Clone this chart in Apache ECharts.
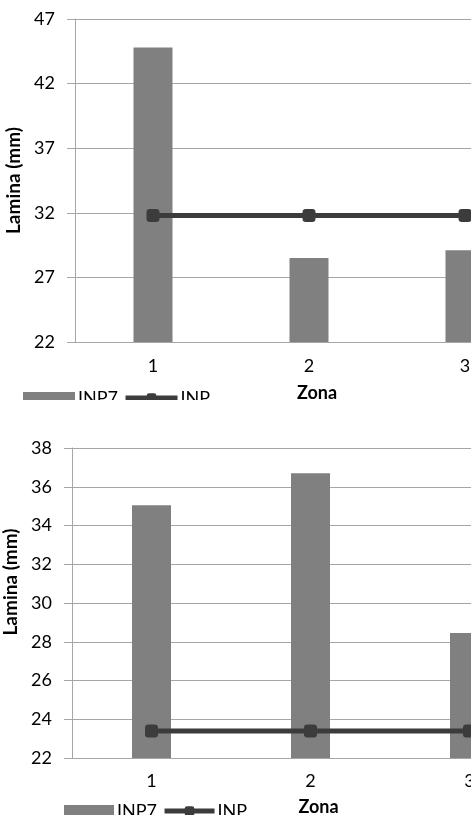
<!DOCTYPE html>
<html>
<head>
<meta charset="utf-8">
<script src="https://cdn.jsdelivr.net/npm/echarts@6/dist/echarts.min.js"></script>
<style>
  html, body { margin: 0; padding: 0; background: #fff; }
  #top { width: 471px; height: 400px; }
  #bottom { width: 471px; height: 415px; }
</style>
</head>
<body>
<div id="top"></div>
<div id="bottom"></div>
<script>
// zonas
var zonas = ['1', '2', '3'];
// grafico superior
var inp7Top = [44.8, 28.5, 29.1];
var inpTop = [31.8, 31.8, 31.8];
var ticksTop = [22, 27, 32, 37, 42, 47];
// grafico inferior
var inp7Bottom = [35.05, 36.7, 28.45];
var inpBottom = [23.4, 23.4, 23.4];
var ticksBottom = [22, 24, 26, 28, 30, 32, 34, 36, 38];

var fontName = 'Lato';
var gridGray = '#a6a6a6';

function buildOption(g, bars, line, ticks, lg) {
  return {
    animation: false,
    textStyle: { fontFamily: fontName },
    legend: {
      left: lg.left,
      top: lg.top,
      padding: 0,
      itemWidth: lg.w,
      itemHeight: 12,
      itemGap: 5,
      lineStyle: { width: 5 },
      textStyle: { fontSize: 18, color: '#000', lineHeight: 12, padding: [0, 0, 0, -2] },
      data: [
        { name: 'INP7', icon: 'rect' },
        { name: 'INP' }
      ]
    },
    grid: g.grid,
    xAxis: {
      type: 'category',
      data: zonas,
      boundaryGap: true,
      name: 'Zona',
      nameLocation: 'middle',
      nameGap: g.nameGapX,
      nameTextStyle: { fontSize: 18, fontWeight: 'bold', color: '#000', padding: [0, 0, 0, 16] },
      axisLine: { lineStyle: { color: gridGray } },
      axisTick: { length: 6, alignWithLabel: false, lineStyle: { color: gridGray } },
      axisLabel: { fontSize: 18, color: '#000', margin: g.labelMarginX }
    },
    yAxis: {
      type: 'value',
      min: ticks[0],
      max: ticks[ticks.length - 1],
      name: 'Lamina (mm)',
      nameLocation: 'middle',
      nameGap: g.nameGapY,
      nameTextStyle: { fontSize: 19, fontWeight: 'bold', color: '#000', padding: g.namePadY },
      axisLine: { show: true, lineStyle: { color: gridGray } },
      axisTick: { show: true, length: 8, lineStyle: { color: gridGray }, customValues: ticks },
      axisLabel: { fontSize: 18, color: '#000', margin: 20, customValues: ticks },
      splitLine: { lineStyle: { color: gridGray } }
    },
    series: [
      {
        name: 'INP7',
        type: 'bar',
        barWidth: 39,
        data: bars,
        itemStyle: { color: '#808080' }
      },
      {
        name: 'INP',
        type: 'line',
        data: line,
        symbol: 'roundRect',
        symbolSize: 13,
        lineStyle: { color: '#3c3c3c', width: 5 },
        itemStyle: { color: '#3c3c3c' },
        z: 5
      }
    ]
  };
}

var chartTop = echarts.init(document.getElementById('top'));
chartTop.setOption(buildOption(
  {
    grid: { left: 75, top: 19, width: 468, height: 323, outerBoundsMode: 'none' },
    nameGapX: 42, labelMarginX: 15, nameGapY: 47, namePadY: 0
  },
  inp7Top, inpTop, ticksTop,
  { left: 23, top: 389, w: 52 }
));

var chartBottom = echarts.init(document.getElementById('bottom'));
chartBottom.setOption(buildOption(
  {
    grid: { left: 72, top: 48, width: 477, height: 310, outerBoundsMode: 'none' },
    nameGapX: 40, labelMarginX: 14, nameGapY: 45, namePadY: [0, 0, 0, 42]
  },
  inp7Bottom, inpBottom, ticksBottom,
  { left: 64, top: 402, w: 50 }
));
</script>
</body>
</html>
